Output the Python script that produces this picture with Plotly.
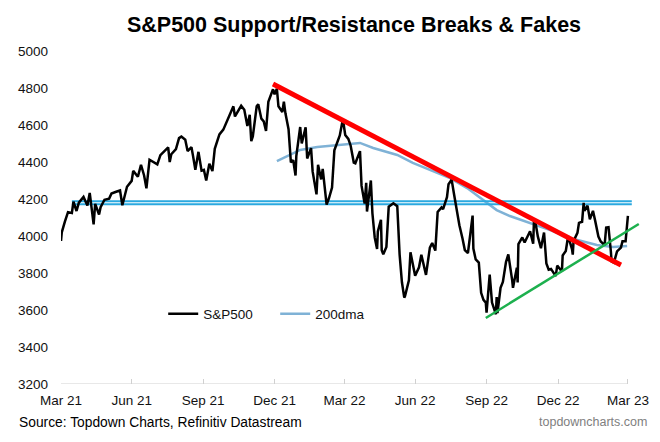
import plotly.graph_objects as go

# ---------------- data ----------------
spx_dates = [
    "2021-03-31","2021-04-01","2021-04-05","2021-04-09","2021-04-14","2021-04-16","2021-04-20","2021-04-23",
    "2021-04-29","2021-05-04","2021-05-07","2021-05-12","2021-05-14","2021-05-19","2021-05-21","2021-05-26",
    "2021-06-01","2021-06-04","2021-06-10","2021-06-15","2021-06-18","2021-06-24","2021-06-30","2021-07-02",
    "2021-07-08","2021-07-12","2021-07-16","2021-07-19","2021-07-23","2021-07-28","2021-08-02","2021-08-06",
    "2021-08-12","2021-08-16","2021-08-18","2021-08-20","2021-08-26","2021-08-30","2021-09-02","2021-09-07",
    "2021-09-10","2021-09-15","2021-09-17","2021-09-20","2021-09-24","2021-09-28","2021-10-01","2021-10-04",
    "2021-10-08","2021-10-12","2021-10-15","2021-10-21","2021-10-26","2021-10-29","2021-11-03","2021-11-08",
    "2021-11-10","2021-11-15","2021-11-18","2021-11-22","2021-11-26","2021-11-29","2021-11-30","2021-12-01",
    "2021-12-03","2021-12-08","2021-12-10","2021-12-14","2021-12-17","2021-12-20","2021-12-23","2021-12-29",
    "2021-12-31","2022-01-03","2022-01-05","2022-01-10","2022-01-12","2022-01-14","2022-01-18","2022-01-21",
    "2022-01-24","2022-01-27","2022-01-28","2022-02-02","2022-02-04","2022-02-09","2022-02-11","2022-02-16",
    "2022-02-18","2022-02-23","2022-02-25","2022-03-01","2022-03-03","2022-03-08","2022-03-11","2022-03-15",
    "2022-03-18","2022-03-22","2022-03-25","2022-03-29","2022-04-01","2022-04-05","2022-04-08","2022-04-12",
    "2022-04-14","2022-04-20","2022-04-22","2022-04-26","2022-04-28","2022-04-29","2022-05-04","2022-05-06",
    "2022-05-09","2022-05-12","2022-05-13","2022-05-17","2022-05-18","2022-05-20","2022-05-24","2022-05-27",
    "2022-06-02","2022-06-07","2022-06-10","2022-06-13","2022-06-16","2022-06-17","2022-06-22","2022-06-24",
    "2022-06-28","2022-06-30","2022-07-05","2022-07-08","2022-07-14","2022-07-19","2022-07-22","2022-07-26",
    "2022-07-29","2022-08-03","2022-08-05","2022-08-10","2022-08-12","2022-08-16","2022-08-19","2022-08-23",
    "2022-08-26","2022-08-30","2022-09-02","2022-09-06","2022-09-12","2022-09-13","2022-09-16","2022-09-20",
    "2022-09-23","2022-09-26","2022-09-29","2022-09-30","2022-10-04","2022-10-07","2022-10-12","2022-10-13",
    "2022-10-14","2022-10-18","2022-10-21","2022-10-25","2022-10-28","2022-11-02","2022-11-03","2022-11-08",
    "2022-11-09","2022-11-10","2022-11-15","2022-11-18","2022-11-22","2022-11-25","2022-11-29","2022-11-30",
    "2022-12-02","2022-12-05","2022-12-09","2022-12-13","2022-12-16","2022-12-19","2022-12-22","2022-12-28",
    "2022-12-30","2023-01-05","2023-01-06","2023-01-10","2023-01-13","2023-01-18","2023-01-19","2023-01-20",
    "2023-01-25","2023-01-27","2023-01-31","2023-02-02","2023-02-03","2023-02-07","2023-02-10","2023-02-14",
    "2023-02-17","2023-02-21","2023-02-24","2023-03-01","2023-03-03","2023-03-06","2023-03-09","2023-03-10",
    "2023-03-13","2023-03-15","2023-03-17","2023-03-22","2023-03-24","2023-03-28","2023-03-30","2023-03-31",
]
spx_values = [
    3973, 4020, 4078, 4129, 4124, 4185, 4135, 4180,
    4211, 4165, 4233, 4063, 4174, 4116, 4156, 4196,
    4202, 4230, 4239, 4246, 4166, 4266, 4298, 4352,
    4320, 4385, 4327, 4258, 4412, 4400, 4387, 4437,
    4460, 4479, 4400, 4442, 4470, 4529, 4537, 4520,
    4459, 4480, 4433, 4358, 4455, 4353, 4357, 4300,
    4391, 4351, 4471, 4549, 4575, 4605, 4660, 4701,
    4646, 4683, 4704, 4682, 4595, 4655, 4567, 4513,
    4538, 4701, 4712, 4634, 4620, 4568, 4725, 4793,
    4766, 4796, 4701, 4670, 4726, 4663, 4577, 4398,
    4410, 4327, 4432, 4589, 4500, 4587, 4419, 4475,
    4349, 4225, 4385, 4306, 4363, 4170, 4204, 4262,
    4463, 4512, 4543, 4632, 4546, 4525, 4488, 4397,
    4393, 4459, 4272, 4175, 4288, 4132, 4300, 4123,
    3991, 3930, 4024, 4088, 3923, 3901, 3941, 4158,
    4177, 4161, 3901, 3750, 3667, 3675, 3760, 3912,
    3821, 3785, 3831, 3899, 3790, 3937, 3962, 3921,
    4130, 4155, 4145, 4210, 4280, 4305, 4228, 4128,
    4058, 3986, 3924, 3908, 4110, 3932, 3873, 3856,
    3693, 3655, 3640, 3586, 3791, 3640, 3577, 3670,
    3583, 3720, 3752, 3859, 3901, 3760, 3720, 3828,
    3749, 3956, 3992, 3965, 4003, 4026, 3958, 4080,
    4072, 3998, 3934, 4019, 3852, 3818, 3822, 3783,
    3840, 3808, 3895, 3919, 3999, 3929, 3899, 3972,
    4017, 4071, 4077, 4179, 4136, 4164, 4090, 4136,
    4079, 3997, 3970, 3951, 4046, 4048, 3919, 3862,
    3856, 3892, 3917, 3937, 3971, 3971, 4051, 4109,
]

dma_dates = [
    "2022-01-03","2022-02-02","2022-02-24","2022-03-25","2022-04-20","2022-05-07","2022-06-07","2022-06-27",
    "2022-07-28","2022-08-14","2022-09-05","2022-09-25","2022-10-13","2022-10-30","2022-11-25","2022-12-21",
    "2023-01-15","2023-02-19","2023-03-12","2023-03-30",
]
dma_values = [
    4405, 4465, 4481, 4492, 4503, 4476, 4438, 4395,
    4340, 4313, 4259, 4195, 4140, 4108, 4070, 4032,
    3989, 3951, 3940, 3946,
]

support_dates = ["2021-04-14", "2023-04-05"]
support_low = [4172, 4172]
support_high = [4188, 4188]

resist_dates = ["2021-12-29", "2023-03-22"]
resist_values = [4822, 3843]

trend_dates = ["2022-09-29", "2023-04-14"]
trend_values = [3557, 4065]

tick_dates = ["2021-03-31","2021-06-30","2021-09-30","2021-12-31","2022-03-31",
              "2022-06-30","2022-09-30","2022-12-31","2023-03-31"]
tick_labels = ["Mar 21","Jun 21","Sep 21","Dec 21","Mar 22","Jun 22","Sep 22","Dec 22","Mar 23"]
y_ticks = [3200, 3400, 3600, 3800, 4000, 4200, 4400, 4600, 4800, 5000]

FONT = "Arial, Liberation Sans, sans-serif"
BLUE_H = "#2aa8df"

fig = go.Figure()

fig.add_trace(go.Scatter(x=dma_dates, y=dma_values, mode="lines", name="200dma",
                         line=dict(color="#7fb2d6", width=2.5)))
for yv in (support_low, support_high):
    fig.add_trace(go.Scatter(x=support_dates, y=yv, mode="lines", showlegend=False,
                             line=dict(color=BLUE_H, width=2), hoverinfo="skip"))
fig.add_trace(go.Scatter(x=spx_dates, y=spx_values, mode="lines", name="S&P500",
                         line=dict(color="#000000", width=2.5)))
fig.add_trace(go.Scatter(x=resist_dates, y=resist_values, mode="lines", showlegend=False,
                         line=dict(color="#ff0000", width=5), hoverinfo="skip"))
fig.add_trace(go.Scatter(x=trend_dates, y=trend_values, mode="lines", showlegend=False,
                         line=dict(color="#1db04e", width=2.5), hoverinfo="skip"))

fig.update_layout(
    width=660, height=442,
    margin=dict(l=61, r=15, t=51, b=58),
    paper_bgcolor="white", plot_bgcolor="white",
    font=dict(family=FONT, size=13.5, color="#111111"),
    title=dict(text="<b>S&P500 Support/Resistance Breaks & Fakes</b>",
               x=354 / 660, xanchor="center", y=1 - 24.5 / 442, yanchor="middle", yref="container",
               font=dict(size=21.5, color="#000000", family=FONT)),
    showlegend=True,
    legend=dict(orientation="h", x=0.175, xanchor="left", y=0.21, yanchor="middle",
                bgcolor="rgba(0,0,0,0)", font=dict(size=13.5, color="#111111"),
                traceorder="reversed", entrywidth=67, entrywidthmode="pixels"),
    xaxis=dict(type="date", range=["2021-03-31", "2023-04-22"],
               tickvals=tick_dates, ticktext=tick_labels,
               showgrid=False, zeroline=False, showline=False,
               ticks="inside", ticklen=5, tickcolor="#d0d0d0", tickwidth=1,
               tickfont=dict(size=13.5, color="#111111"), ticklabelstandoff=6),
    yaxis=dict(range=[3200, 5000], tickvals=y_ticks, showgrid=False, zeroline=False,
               showline=False, ticks="", tickfont=dict(size=13.5, color="#111111"),
               ticklabelstandoff=12),
    shapes=[dict(type="line", xref="x", yref="y", x0=tick_dates[0], x1=tick_dates[-1],
                 y0=3200, y1=3200, line=dict(color="#d0d0d0", width=1), layer="below")],
    annotations=[
        dict(text="Source: Topdown Charts, Refinitiv Datastream", xref="paper", yref="paper",
             x=(17 - 61) / 584, y=-(422 - 384) / 333, xanchor="left", yanchor="middle",
             showarrow=False, font=dict(size=13.8, color="#000000")),
        dict(text="topdowncharts.com", xref="paper", yref="paper",
             x=(649 - 61) / 584, y=-(422 - 384) / 333, xanchor="right", yanchor="middle",
             showarrow=False, font=dict(size=12.5, color="#808080")),
    ],
)

fig.write_html("out.html", config={"displayModeBar": False},
               post_script="document.body.style.margin='0';document.body.style.overflow='hidden';")
